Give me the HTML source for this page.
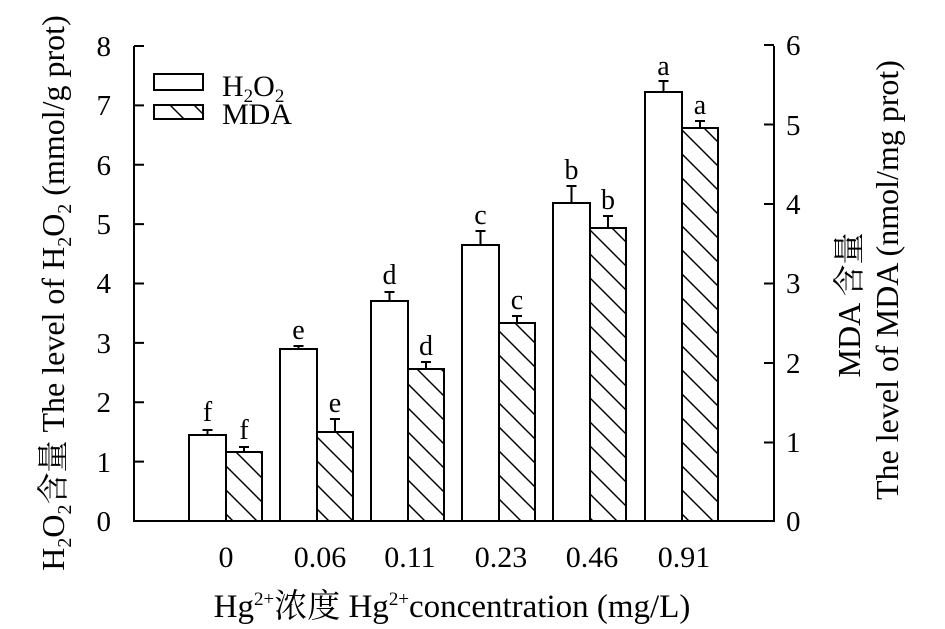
<!DOCTYPE html>
<html><head><style>body{margin:0;background:#fff}svg{display:block}text{font-family:"Liberation Serif","Noto Serif CJK SC",serif;fill:#000}</style></head>
<body>
<svg width="945" height="629" viewBox="0 0 945 629" xmlns="http://www.w3.org/2000/svg">
<defs>
<pattern id="h" patternUnits="userSpaceOnUse" width="24" height="24">
<path d="M-6,-6 L30,30 M-30,-6 L6,30 M18,-6 L54,30" stroke="#000" stroke-width="1.5"/>
</pattern>
</defs>
<g stroke="#000" stroke-width="2" fill="none">
<path d="M134,46 V521 H774 V46"/>
<path d="M134,46h10M134,105.4h10M134,164.8h10M134,224.1h10M134,283.5h10M134,342.9h10M134,402.3h10M134,461.6h10"/>
<path d="M774,45h-10M774,124.5h-10M774,204h-10M774,283.5h-10M774,363h-10M774,442.5h-10"/>
</g>
<g stroke="#000" stroke-width="2">
<rect x="189" y="435" width="37" height="86" fill="#fff"/>
<rect x="226" y="452" width="36" height="69" fill="url(#h)"/>
<rect x="280" y="349" width="37" height="172" fill="#fff"/>
<rect x="317" y="432" width="36" height="89" fill="url(#h)"/>
<rect x="371" y="301" width="37" height="220" fill="#fff"/>
<rect x="408" y="369" width="36" height="152" fill="url(#h)"/>
<rect x="462" y="245" width="37" height="276" fill="#fff"/>
<rect x="499" y="323" width="36" height="198" fill="url(#h)"/>
<rect x="553" y="203" width="37" height="318" fill="#fff"/>
<rect x="590" y="228" width="36" height="293" fill="url(#h)"/>
<rect x="645" y="92" width="37" height="429" fill="#fff"/>
<rect x="682" y="128" width="36" height="393" fill="url(#h)"/>
<path fill="none" d="M207.5,435V430m-5,0h10 M244,452V447m-5,0h10 M298.5,349V346m-5,0h10 M335,432V419m-5,0h10 M389.5,301V292m-5,0h10 M426,369V362m-5,0h10 M480.5,245V231m-5,0h10 M517,323V316m-5,0h10 M571.5,203V186m-5,0h10 M608,228V216m-5,0h10 M663.5,92V81m-5,0h10 M700,128V121m-5,0h10"/>
<rect x="154" y="74" width="49" height="16" fill="#fff"/>
<rect x="154" y="105" width="49" height="14" fill="#fff"/>
<path d="M170,105 L184,119 M194,105 L203,114" stroke-width="1.5"/>
</g>
<g font-size="28" text-anchor="middle">
<text x="207.5" y="421">f</text><text x="244" y="439">f</text>
<text x="298.5" y="339">e</text><text x="335" y="412">e</text>
<text x="389.5" y="284">d</text><text x="426" y="355">d</text>
<text x="480.5" y="224">c</text><text x="517" y="309">c</text>
<text x="571.5" y="179">b</text><text x="608" y="209">b</text>
<text x="663.5" y="75">a</text><text x="700" y="114">a</text>
</g>
<g font-size="29" text-anchor="end">
<text x="111" y="56">8</text><text x="111" y="115">7</text><text x="111" y="175">6</text><text x="111" y="234">5</text><text x="111" y="293">4</text><text x="111" y="353">3</text><text x="111" y="412">2</text><text x="111" y="472">1</text><text x="111" y="531">0</text>
</g>
<g font-size="29" text-anchor="start">
<text x="786" y="55">6</text><text x="786" y="135">5</text><text x="786" y="214">4</text><text x="786" y="293">3</text><text x="786" y="373">2</text><text x="786" y="452">1</text><text x="786" y="531">0</text>
</g>
<g font-size="30" text-anchor="middle">
<text x="226" y="567">0</text><text x="320" y="567">0.06</text><text x="410" y="567">0.11</text><text x="501" y="567">0.23</text><text x="592" y="567">0.46</text><text x="684" y="567">0.91</text>
</g>
<text x="222" y="96" font-size="30">H<tspan font-size="19" dy="6">2</tspan><tspan dy="-6">O</tspan><tspan font-size="19" dy="6">2</tspan></text>
<text x="222" y="124" font-size="30">MDA</text>
<text x="452" y="617" font-size="33" text-anchor="middle">Hg<tspan font-size="19" dy="-12">2+</tspan><tspan dy="12">浓度 Hg</tspan><tspan font-size="19" dy="-12">2+</tspan><tspan dy="12">concentration (mg/L)</tspan></text>
<text transform="translate(64,293) rotate(-90)" font-size="32" text-anchor="middle">H<tspan font-size="20" dy="7">2</tspan><tspan dy="-7">O</tspan><tspan font-size="20" dy="7">2</tspan><tspan dy="-7">含量 The level of H</tspan><tspan font-size="20" dy="7">2</tspan><tspan dy="-7">O</tspan><tspan font-size="20" dy="7">2</tspan><tspan dy="-7"> (mmol/g prot)</tspan></text>
<text transform="translate(860,305) rotate(-90)" font-size="32" text-anchor="middle">MDA 含量</text>
<text transform="translate(898,280) rotate(-90)" font-size="32" text-anchor="middle">The level of MDA (nmol/mg prot)</text>
</svg>
</body></html>
